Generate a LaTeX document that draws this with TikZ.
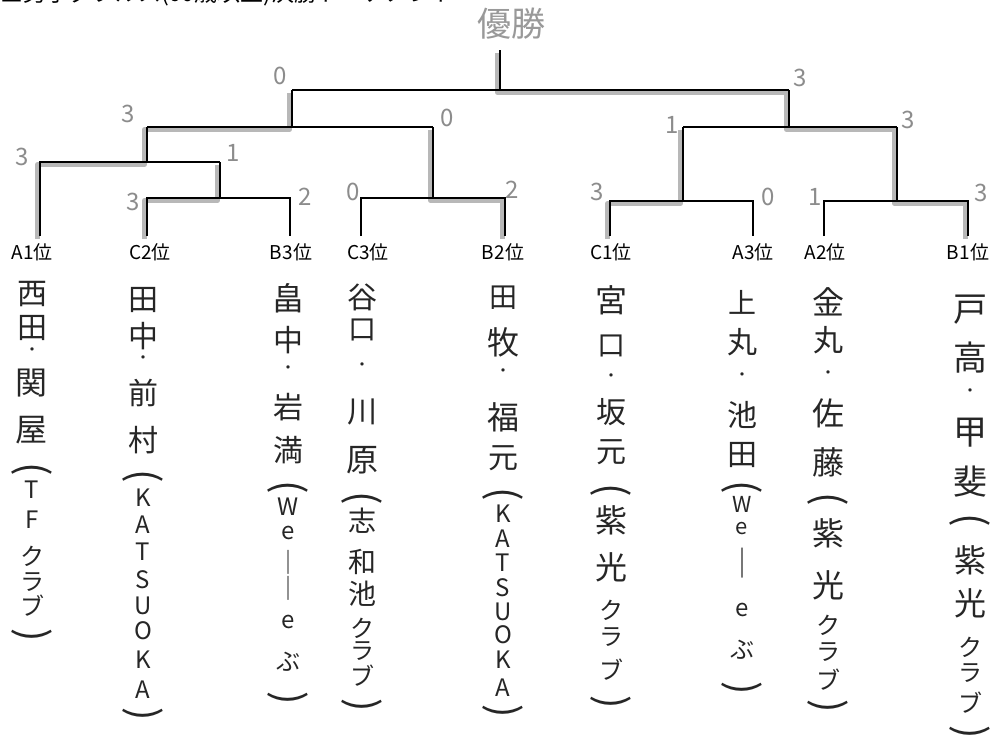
\documentclass[tikz,border=0pt]{standalone}
\usepackage{fontspec}
\newfontfamily\jp{Noto Sans CJK JP}
\newcommand\pl{\rotatebox{-90}{(}}
\newcommand\pr{\rotatebox{-90}{)}}
\newcommand\namecol[3]{%
  \foreach \c/\yy/\s [count=\i] in {#3} {%
    \node[hw, font=\jp\fontsize{\s}{\s}\selectfont] (#1-\i) at (#2,\yy) {\c};}}
\begin{document}
\begin{tikzpicture}[x=1pt,y=-1pt,
  br/.style={line width=1.5pt, black, line join=miter},
  hl/.style={line width=4.5pt, black!28, line join=round,
    transform canvas={shift={(-2.5,2.5)}}},
  hw/.style={inner sep=0pt, text=black!85},
  sc/.style={inner sep=0pt, text=black!45, font=\jp\fontsize{24}{24}\selectfont},
  lab/.style={inner sep=0pt, text=black, font=\jp\fontsize{19}{19}\selectfont}]
\fill[white] (0,0) rectangle (1001,748);
\useasboundingbox (0,0) rectangle (1001,748);

% title (cut off at top)
\node[anchor=base west, inner sep=0pt, font=\jp\fontsize{23}{23}\selectfont] (title) at (0,1) {■男子ダブルス(60歳以上)決勝トーナメント};
% champion label
\node[inner sep=0pt, text=black!40, font=\jp\fontsize{34}{34}\selectfont] (yusho) at (511,24) {優勝};

% leaves
\coordinate (lA1) at (40,236);
\coordinate (lC2) at (147,236);
\coordinate (lB3) at (290,236);
\coordinate (lC3) at (361,236);
\coordinate (lB2) at (505,236);
\coordinate (lC1) at (610,236);
\coordinate (lA3) at (753,236);
\coordinate (lA2) at (824,236);
\coordinate (lB1) at (968,236);
% joints
\coordinate (j1) at (220,198); \coordinate (j1t) at (220,162);
\coordinate (j2) at (147,162); \coordinate (j2t) at (147,127);
\coordinate (j3) at (433,198); \coordinate (j3t) at (433,127);
\coordinate (j4) at (683,201); \coordinate (j4t) at (683,127);
\coordinate (j5) at (897,201); \coordinate (j5t) at (897,127);
\coordinate (s1) at (292,127); \coordinate (s1t) at (292,90);
\coordinate (s2) at (789,127); \coordinate (s2t) at (789,90);
\coordinate (f) at (500,90); \coordinate (top) at (500,50);

% winner highlights (pencil)
\draw[hl] (lA1) |- (j2) -- (j2t) -- (s1) -- (s1t);
\draw[hl] (lC2) |- (j1) -- (j1t);
\draw[hl] (lB2) |- (j3) -- (j3t);
\draw[hl] (lC1) |- (j4) -- (j4t);
\draw[hl] (lB1) |- (j5) -- (j5t) -- (s2) -- (s2t) -- (f) -- (top);

% bracket
\draw[br] (lC2) |- (j1) -| (lB3);
\draw[br] (j1) -- (j1t);
\draw[br] (lA1) |- (j1t);
\draw[br] (j2) -- (j2t);
\draw[br] (lC3) |- (j3) -| (lB2);
\draw[br] (j3) -- (j3t);
\draw[br] (j2t) -- (j3t);
\draw[br] (s1) -- (s1t);
\draw[br] (lC1) |- (j4) -| (lA3);
\draw[br] (j4) -- (j4t);
\draw[br] (lA2) |- (j5) -| (lB1);
\draw[br] (j5) -- (j5t);
\draw[br] (j4t) -- (j5t);
\draw[br] (s2) -- (s2t);
\draw[br] (s1t) -- (s2t);
\draw[br] (f) -- (top);

% scores
\node[sc] (sc1) at (280,76) {0};
\node[sc] (sc2) at (800,78) {3};
\node[sc] (sc3) at (128,114) {3};
\node[sc] (sc4) at (447,118) {0};
\node[sc] (sc5) at (672,125) {1};
\node[sc] (sc6) at (908,120) {3};
\node[sc] (sc7) at (22,157) {3};
\node[sc] (sc8) at (233,153) {1};
\node[sc] (sc9) at (133,202) {3};
\node[sc] (sc10) at (305,197) {2};
\node[sc] (sc11) at (353,192) {0};
\node[sc] (sc12) at (512,190) {2};
\node[sc] (sc13) at (597,192) {3};
\node[sc] (sc14) at (768,197) {0};
\node[sc] (sc15) at (815,197) {1};
\node[sc] (sc16) at (981,193) {3};

% seed labels
\node[lab] (tA1) at (32,252) {A1位};
\node[lab] (tC2) at (150,252) {C2位};
\node[lab] (tB3) at (291,252) {B3位};
\node[lab] (tC3) at (368,252) {C3位};
\node[lab] (tB2) at (503,252) {B2位};
\node[lab] (tC1) at (611,252) {C1位};
\node[lab] (tA3) at (753,252) {A3位};
\node[lab] (tA2) at (825,252) {A2位};
\node[lab] (tB1) at (968,252) {B1位};

% team names (vertical)
\namecol{nA1}{32}{西/294/30, 田/328/30, ・/352/16, 関/383/32, 屋/430/32, \pl/469/40, T/490/24, F/520/24, ク/556/24, ラ/582/24, ブ/606/24, \pr/635/40}
\namecol{nC2}{143}{田/300/30, 中/336/30, ・/360/16, 前/393/30, 村/440/30, \pl/476/40, K/498/24, A/525/24, T/552/24, S/580/24, U/606/24, O/631/24, K/660/24, A/690/24, \pr/714/40}
\namecol{nB3}{288}{畠/298/32, 中/340/30, ・/370/16, 岩/407/30, 満/450/30, \pl/487/40, W/507/24, e/533/24, ｜/562/24, ｜/588/24, e/622/24, ぶ/662/24, \pr/698/40}
\namecol{nC3}{362}{谷/297/30, 口/330/28, ・/367/16, 川/412/30, 原/460/32, \pl/498/40, 志/521/28, 和/562/28, 池/594/28, ク/628/24, ラ/651/24, ブ/676/24, \pr/705/40}
\namecol{nB2}{503}{田/298/28, 牧/342/32, ・/373/16, 福/417/32, 元/458/30, \pl/494/40, K/514/24, A/539/24, T/563/24, S/588/24, U/612/24, O/635/24, K/660/24, A/688/24, \pr/711/40}
\namecol{nC1}{611}{宮/300/32, 口/346/28, ・/378/16, 坂/412/30, 元/452/30, \pl/490/40, 紫/520/32, 光/567/32, ク/610/24, ラ/637/24, ブ/670/24, \pr/702/40}
\namecol{nA3}{742}{上/302/28, 丸/342/30, ・/377/16, 池/415/30, 田/455/30, \pl/487/40, W/504/22, e/529/22, ｜/563/30, e/610/24, ぶ/650/24, \pr/688/40}
\namecol{nA2}{828}{金/302/32, 丸/340/30, ・/375/16, 佐/413/32, 藤/462/32, \pl/499/40, 紫/533/32, 光/585/32, ク/625/24, ラ/652/24, ブ/680/24, \pr/706/40}
\namecol{nB1}{970}{戸/310/34, 高/358/34, ・/393/16, 甲/433/34, 斐/482/34, \pl/520/40, 紫/560/32, 光/603/32, ク/647/24, ラ/673/24, ブ/703/24, \pr/732/40}
\end{tikzpicture}
\end{document}
